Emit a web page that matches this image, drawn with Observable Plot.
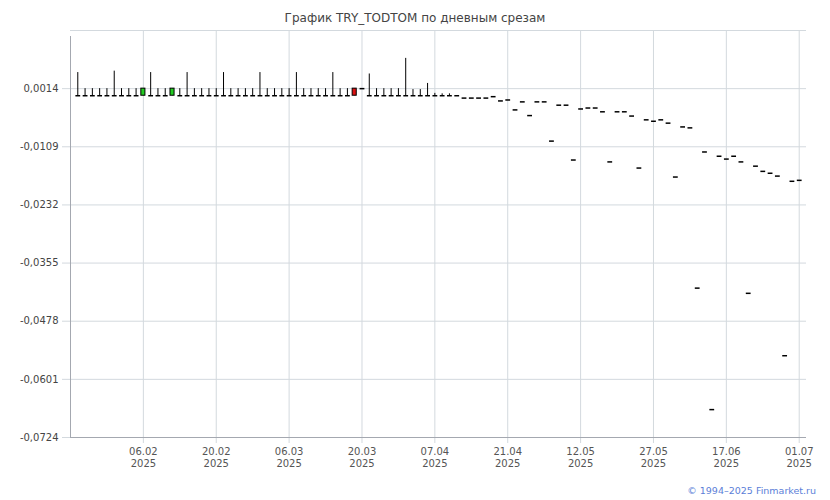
<!DOCTYPE html>
<html>
<head>
<meta charset="utf-8">
<script src="https://cdn.jsdelivr.net/npm/d3@7"></script>
<script src="https://cdn.jsdelivr.net/npm/@observablehq/plot@0.6"></script>
<style>
  body { margin: 0; background: #fff; }
  #wrap { position: relative; width: 830px; height: 500px; font-family: "DejaVu Sans", Verdana, sans-serif; }
  #title { position: absolute; top: 11px; left: 0; width: 830px; text-align: center; font-size: 12px; color: #444; }
  #foot { position: absolute; right: 14px; top: 485px; font-size: 9.5px; color: #5b80d8; }
  #chart { position: absolute; left: 0; top: 0; }
</style>
</head>
<body>
<div id="wrap">
  <div id="chart"></div>
  <div id="title">График TRY_TODTOM по дневным срезам</div>
  <div id="foot">© 1994–2025 Finmarket.ru</div>
</div>
<script>
const dates = [
  "24.01.2025","27.01.2025","28.01.2025","29.01.2025","30.01.2025","31.01.2025","03.02.2025","04.02.2025","05.02.2025","06.02.2025",
  "07.02.2025","10.02.2025","11.02.2025","12.02.2025","13.02.2025","14.02.2025","17.02.2025","18.02.2025","19.02.2025","20.02.2025",
  "21.02.2025","24.02.2025","25.02.2025","26.02.2025","27.02.2025","28.02.2025","03.03.2025","04.03.2025","05.03.2025","06.03.2025",
  "07.03.2025","10.03.2025","11.03.2025","12.03.2025","13.03.2025","14.03.2025","17.03.2025","18.03.2025","19.03.2025","20.03.2025",
  "21.03.2025","24.03.2025","25.03.2025","26.03.2025","27.03.2025","28.03.2025","02.04.2025","03.04.2025","04.04.2025","07.04.2025",
  "08.04.2025","09.04.2025","10.04.2025","11.04.2025","14.04.2025","15.04.2025","16.04.2025","17.04.2025","18.04.2025","21.04.2025",
  "22.04.2025","24.04.2025","25.04.2025","28.04.2025","29.04.2025","30.04.2025","05.05.2025","06.05.2025","07.05.2025","12.05.2025",
  "13.05.2025","14.05.2025","15.05.2025","16.05.2025","20.05.2025","21.05.2025","22.05.2025","23.05.2025","26.05.2025","27.05.2025",
  "28.05.2025","29.05.2025","30.05.2025","02.06.2025","03.06.2025","04.06.2025","10.06.2025","11.06.2025","16.06.2025","17.06.2025",
  "18.06.2025","19.06.2025","20.06.2025","23.06.2025","24.06.2025","25.06.2025","26.06.2025","27.06.2025","30.06.2025","01.07.2025"
];

const open = [
  -0.0001,-0.0001,-0.0001,-0.0001,-0.0001,-0.0001,-0.0001,-0.0001,-0.0001,-0.0001,
  -0.0001,-0.0001,-0.0001,-0.0001,-0.0001,-0.0001,-0.0001,-0.0001,-0.0001,-0.0001,
  -0.0001,-0.0001,-0.0001,-0.0001,-0.0001,-0.0001,-0.0001,-0.0001,-0.0001,-0.0001,
  -0.0001,-0.0001,-0.0001,-0.0001,-0.0001,-0.0001,-0.0001,-0.0001,0.0014,0.0014,
  -0.0001,-0.0001,-0.0001,-0.0001,-0.0001,-0.0001,-0.0001,-0.0001,-0.0001,-0.0001,
  -0.0001,-0.0001,-0.0001,-0.0006,-0.0006,-0.0006,-0.0006,-0.0003,-0.0012,-0.0010,
  -0.0031,-0.0014,-0.0043,-0.0014,-0.0014,-0.0097,-0.0021,-0.0021,-0.0137,-0.0029,
  -0.0027,-0.0027,-0.0035,-0.0141,-0.0035,-0.0035,-0.0044,-0.0154,-0.0052,-0.0055,
  -0.0052,-0.0059,-0.0173,-0.0067,-0.0069,-0.0408,-0.0120,-0.0665,-0.0129,-0.0135,
  -0.0129,-0.0141,-0.0419,-0.0150,-0.0161,-0.0165,-0.0171,-0.0551,-0.0182,-0.0180
];

const high = [
  0.0048,0.0014,0.0014,0.0014,0.0014,0.0051,0.0014,0.0014,0.0014,0.0014,
  0.0048,0.0014,0.0014,0.0014,0.0014,0.0048,0.0014,0.0014,0.0014,0.0014,
  0.0048,0.0014,0.0014,0.0014,0.0014,0.0048,0.0014,0.0014,0.0014,0.0014,
  0.0048,0.0014,0.0014,0.0014,0.0014,0.0048,0.0014,0.0014,0.0014,0.0014,
  0.0045,0.0014,0.0014,0.0014,0.0014,0.0078,0.0012,0.0012,0.0025,0.0004,
  0.0003,0.0003,-0.0001,-0.0006,-0.0006,-0.0006,-0.0006,-0.0003,-0.0012,-0.0010,
  -0.0031,-0.0014,-0.0043,-0.0014,-0.0014,-0.0097,-0.0021,-0.0021,-0.0137,-0.0029,
  -0.0027,-0.0027,-0.0035,-0.0141,-0.0035,-0.0035,-0.0044,-0.0154,-0.0052,-0.0055,
  -0.0052,-0.0059,-0.0173,-0.0067,-0.0069,-0.0408,-0.0120,-0.0665,-0.0129,-0.0135,
  -0.0129,-0.0141,-0.0419,-0.0150,-0.0161,-0.0165,-0.0171,-0.0551,-0.0182,-0.0180
];

const low = [
  -0.0001,-0.0001,-0.0001,-0.0001,-0.0001,-0.0001,-0.0001,-0.0001,-0.0001,-0.0001,
  -0.0001,-0.0001,-0.0001,-0.0001,-0.0001,-0.0001,-0.0001,-0.0001,-0.0001,-0.0001,
  -0.0001,-0.0001,-0.0001,-0.0001,-0.0001,-0.0001,-0.0001,-0.0001,-0.0001,-0.0001,
  -0.0001,-0.0001,-0.0001,-0.0001,-0.0001,-0.0001,-0.0001,-0.0001,-0.0001,0.0014,
  -0.0001,-0.0001,-0.0001,-0.0001,-0.0001,-0.0001,-0.0001,-0.0001,-0.0001,-0.0001,
  -0.0001,-0.0001,-0.0001,-0.0006,-0.0006,-0.0006,-0.0006,-0.0003,-0.0012,-0.0010,
  -0.0031,-0.0014,-0.0043,-0.0014,-0.0014,-0.0097,-0.0021,-0.0021,-0.0137,-0.0029,
  -0.0027,-0.0027,-0.0035,-0.0141,-0.0035,-0.0035,-0.0044,-0.0154,-0.0052,-0.0055,
  -0.0052,-0.0059,-0.0173,-0.0067,-0.0069,-0.0408,-0.0120,-0.0665,-0.0129,-0.0135,
  -0.0129,-0.0141,-0.0419,-0.0150,-0.0161,-0.0165,-0.0171,-0.0551,-0.0182,-0.0180
];

const close = [
  -0.0001,-0.0001,-0.0001,-0.0001,-0.0001,-0.0001,-0.0001,-0.0001,-0.0001,0.0014,
  -0.0001,-0.0001,-0.0001,0.0014,-0.0001,-0.0001,-0.0001,-0.0001,-0.0001,-0.0001,
  -0.0001,-0.0001,-0.0001,-0.0001,-0.0001,-0.0001,-0.0001,-0.0001,-0.0001,-0.0001,
  -0.0001,-0.0001,-0.0001,-0.0001,-0.0001,-0.0001,-0.0001,-0.0001,-0.0001,0.0014,
  -0.0001,-0.0001,-0.0001,-0.0001,-0.0001,-0.0001,-0.0001,-0.0001,-0.0001,-0.0001,
  -0.0001,-0.0001,-0.0001,-0.0006,-0.0006,-0.0006,-0.0006,-0.0003,-0.0012,-0.0010,
  -0.0031,-0.0014,-0.0043,-0.0014,-0.0014,-0.0097,-0.0021,-0.0021,-0.0137,-0.0029,
  -0.0027,-0.0027,-0.0035,-0.0141,-0.0035,-0.0035,-0.0044,-0.0154,-0.0052,-0.0055,
  -0.0052,-0.0059,-0.0173,-0.0067,-0.0069,-0.0408,-0.0120,-0.0665,-0.0129,-0.0135,
  -0.0129,-0.0141,-0.0419,-0.0150,-0.0161,-0.0165,-0.0171,-0.0551,-0.0182,-0.0180
];

const xTickDates = ["06.02.2025","20.02.2025","06.03.2025","20.03.2025","07.04.2025","21.04.2025","12.05.2025","27.05.2025","17.06.2025","01.07.2025"];
const yTicks = [0.0014, -0.0109, -0.0232, -0.0355, -0.0478, -0.0601, -0.0724];
const yTop = 0.0137;

const rows = dates.map((d, i) => ({ i, date: d, o: open[i], h: high[i], l: low[i], c: close[i] }));
const xTicks = xTickDates.map(d => dates.indexOf(d));
const xMin = -1, xMax = dates.length;

const gridColor = "#d3d9de";
const axisColor = "#a4a8b0";
const textColor = "#444";

const chart = Plot.plot({
  width: 830,
  height: 500,
  marginTop: 30,
  marginBottom: 63,
  marginLeft: 70,
  marginRight: 24,
  style: { fontFamily: "DejaVu Sans, Verdana, sans-serif", fontSize: "10px", color: textColor, background: "transparent" },
  x: { type: "linear", domain: [xMin, xMax] },
  y: { domain: [yTicks[yTicks.length - 1], yTop] },
  marks: [
    Plot.gridY([...yTicks, yTop], { stroke: gridColor, strokeOpacity: 1 }),
    Plot.gridX(xTicks, { stroke: gridColor, strokeOpacity: 1 }),
    Plot.axisY({
      ticks: yTicks, tickSize: 8, tickPadding: 4, stroke: gridColor, fill: textColor,
      tickFormat: v => d3.format(".4f")(v).replace("−", "-").replace(".", ","),
      label: null
    }),
    Plot.axisX({
      ticks: xTicks, tickSize: 6, tickPadding: 3, stroke: gridColor, fill: "#555",
      tickFormat: i => { const p = dates[i].split("."); return p[0] + "." + p[1] + "\n" + p[2]; },
      lineHeight: 1.2,
      label: null
    }),
    Plot.ruleX([xMin], { y1: yTicks[yTicks.length - 1], y2: yTop, stroke: axisColor, insetBottom: -6 }),
    Plot.ruleY([yTicks[yTicks.length - 1]], { x1: xMin, x2: xMax, stroke: axisColor }),
    Plot.ruleX(rows.filter(r => r.h > r.l), { x: "i", y1: "l", y2: "h", stroke: "#000", strokeWidth: 1 }),
    Plot.rect(rows.filter(r => r.o !== r.c), {
      x1: r => r.i - 0.28, x2: r => r.i + 0.28, y1: "o", y2: "c",
      fill: r => r.c > r.o ? "#22cc22" : "#dd1111", stroke: "#000", strokeWidth: 1
    }),
    Plot.link(rows.filter(r => r.o === r.c), {
      x1: r => r.i - 0.33, x2: r => r.i + 0.33, y1: "c", y2: "c",
      stroke: "#000", strokeWidth: 1.5
    })
  ]
});
document.getElementById("chart").appendChild(chart);
</script>
</body>
</html>
